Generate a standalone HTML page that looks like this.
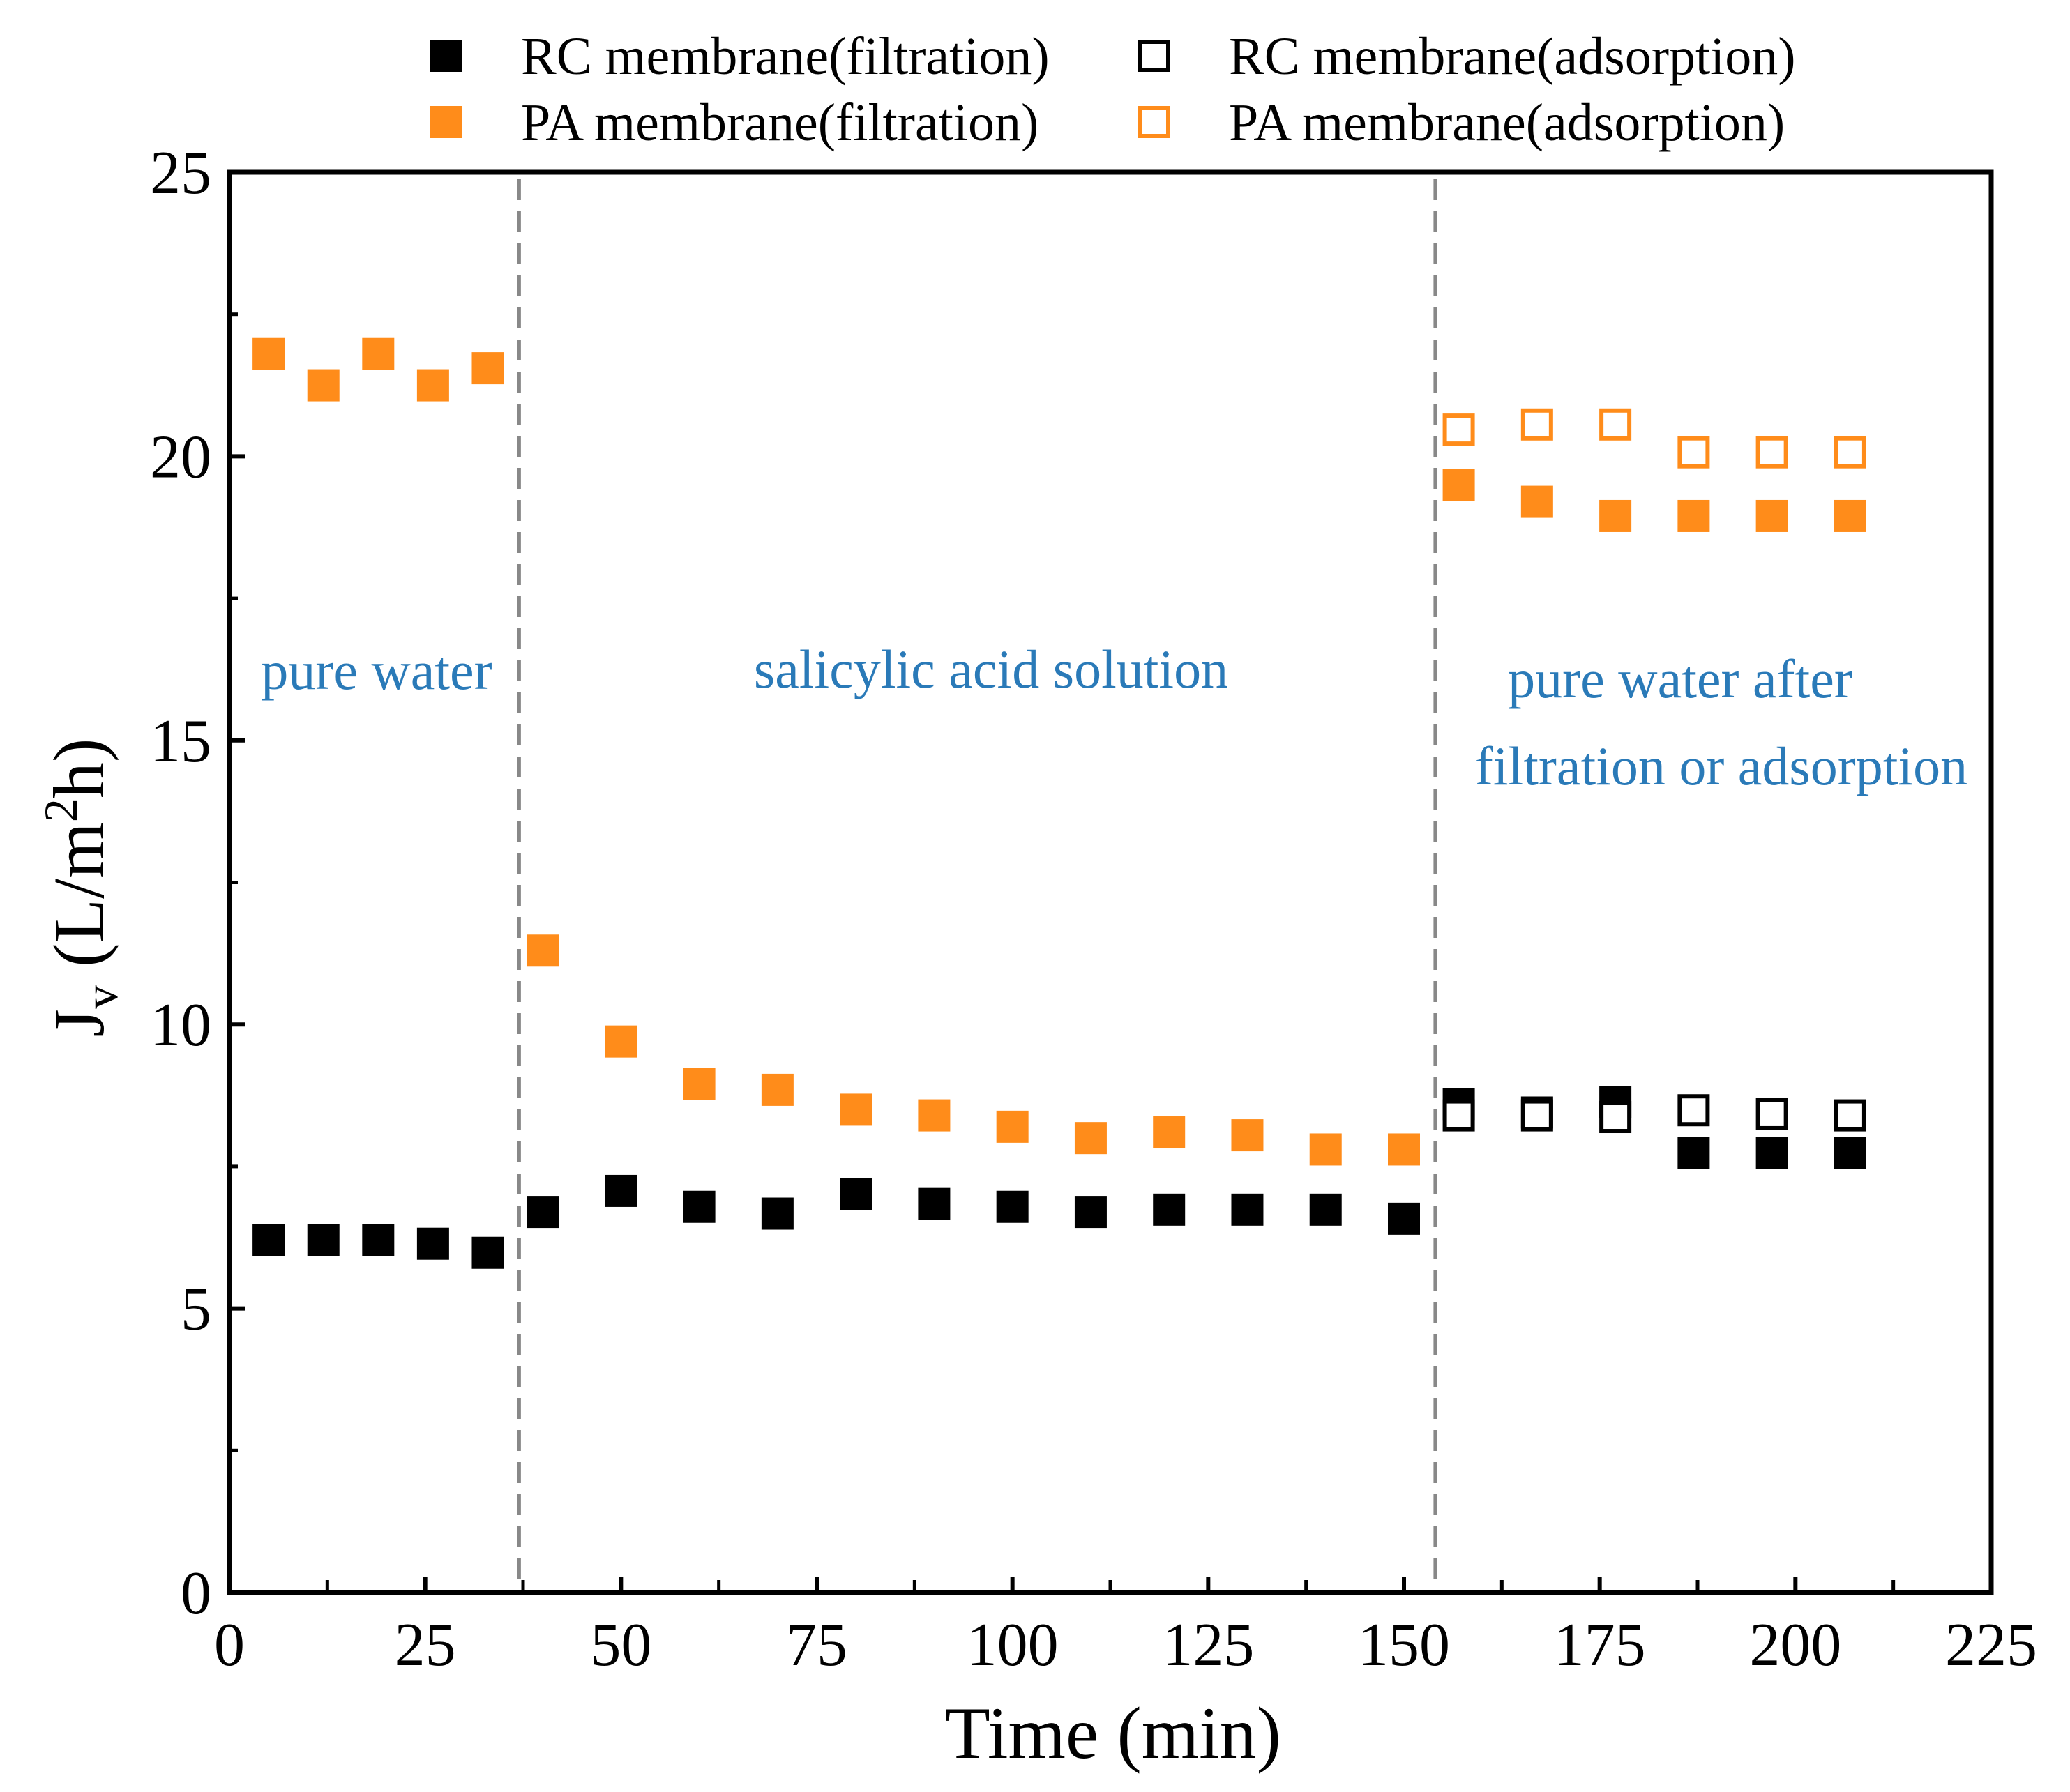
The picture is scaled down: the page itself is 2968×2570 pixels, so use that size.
<!DOCTYPE html>
<html><head><meta charset="utf-8"><style>
html,body{margin:0;padding:0;background:#fff;}
svg{display:block;font-family:"Liberation Serif",serif;}
</style></head><body>
<svg id="chart" width="2968" height="2570" viewBox="0 0 2968 2570" xmlns="http://www.w3.org/2000/svg">
<rect width="2968" height="2570" fill="#fff"/>
<g id="legend"></g>
<g id="marks"></g>
<g id="axes"></g>
<text x="540" y="988" font-size="78" fill="#2a7ab8" text-anchor="middle">pure water</text>
<text x="1421" y="986" font-size="78" fill="#2a7ab8" text-anchor="middle">salicylic acid solution</text>
<text x="2409" y="1000" font-size="78" fill="#2a7ab8" text-anchor="middle">pure water after</text>
<text x="2468" y="1125" font-size="78" fill="#2a7ab8" text-anchor="middle">filtration or adsorption</text>
<text x="1596" y="2521" font-size="106" text-anchor="middle">Time (min)</text>
<text transform="translate(148,1273) rotate(-90)" font-size="104" text-anchor="middle">J<tspan font-size="68" dy="20">v</tspan><tspan dy="-20"> (L/m</tspan><tspan font-size="68" dy="-38">2</tspan><tspan dy="38">h)</tspan></text>
</svg>
<script>
const timeFilt=[5,12,19,26,33,40,50,60,70,80,90,100,110,120,130,140,150,157,167,177,187,197,207];
const paFilt=[21.8,21.25,21.8,21.25,21.55,11.3,9.7,8.95,8.85,8.5,8.4,8.2,8.0,8.1,8.05,7.8,7.8,19.5,19.2,18.95,18.95,18.95,18.95];
const rcFilt=[6.21,6.21,6.21,6.14,5.98,6.7,7.07,6.79,6.67,7.02,6.84,6.79,6.7,6.74,6.74,6.74,6.58,8.6,8.45,8.63,7.74,7.74,7.74];
const timeAds=[157,167,177,187,197,207];
const rcAds=[8.4,8.4,8.37,8.49,8.42,8.4];
const paAds=[20.47,20.56,20.56,20.07,20.07,20.07];
const xTicks=[0,25,50,75,100,125,150,175,200,225];
const yTicks=[0,5,10,15,20,25];
const dividers=[37,154];

const NS="http://www.w3.org/2000/svg";
const L=329,R=2855,T=247,B=2284;
const X=v=>L+(v/225)*(R-L);
const Y=v=>B-(v/25)*(B-T);
const ORANGE="#ff8c1a";
function mk(tag,attrs,parent){const e=document.createElementNS(NS,tag);for(const k in attrs)e.setAttribute(k,attrs[k]);parent.appendChild(e);return e;}
const marks=document.getElementById('marks'),axes=document.getElementById('axes'),legend=document.getElementById('legend');

dividers.forEach((d,i)=>{
  const l=mk('line',{x1:X(d),x2:X(d),y1:T+10,y2:B,stroke:'#888','stroke-width':5,'stroke-dasharray':'30 16'},marks);
  
  
});
const S=46;
function sq(x,y,filled,color,parent,name){
  const r=filled?mk('rect',{x:x-S/2,y:y-S/2,width:S,height:S,fill:color},parent)
    :mk('rect',{x:x-S/2+3,y:y-S/2+3,width:S-6,height:S-6,fill:'#fff',stroke:color,'stroke-width':6},parent);
  
  
}
timeFilt.forEach((t,i)=>sq(X(t),Y(paFilt[i]),true,ORANGE,marks,'pa-filtration-point'));
timeFilt.forEach((t,i)=>sq(X(t),Y(rcFilt[i]),true,'#000',marks,'rc-filtration-point'));
timeAds.forEach((t,i)=>sq(X(t),Y(rcAds[i]),false,'#000',marks,'rc-adsorption-point'));
timeAds.forEach((t,i)=>sq(X(t),Y(paAds[i]),false,ORANGE,marks,'pa-adsorption-point'));

const frame=mk('rect',{x:L,y:T,width:R-L,height:B-T,fill:'none',stroke:'#000','stroke-width':7},axes);


xTicks.forEach(v=>{
  const tk=mk('line',{x1:X(v),x2:X(v),y1:B,y2:B-22,stroke:'#000','stroke-width':6},axes);
  
  
  if(v<225){const m=mk('line',{x1:X(v+12.5),x2:X(v+12.5),y1:B,y2:B-18,stroke:'#000','stroke-width':5},axes);
  
  }
  const t=mk('text',{x:X(v),y:B+104,'font-size':88,'text-anchor':'middle'},axes);t.textContent=v;
  
  
});
yTicks.forEach(v=>{
  const tk=mk('line',{x1:L,x2:L+22,y1:Y(v),y2:Y(v),stroke:'#000','stroke-width':6},axes);
  
  
  if(v<25){const m=mk('line',{x1:L,x2:L+12,y1:Y(v+2.5),y2:Y(v+2.5),stroke:'#000','stroke-width':5},axes);
  
  }
  const t=mk('text',{x:L-26,y:Y(v)+30,'font-size':88,'text-anchor':'end'},axes);t.textContent=v;
  
  
});
const legItems=[[640,80,true,'#000','RC membrane(filtration)'],[1655,80,false,'#000','RC membrane(adsorption)'],[640,175,true,ORANGE,'PA membrane(filtration)'],[1655,175,false,ORANGE,'PA membrane(adsorption)']];
legItems.forEach(it=>{
  sq(it[0],it[1],it[2],it[3],legend,'legend-marker');
  const t=mk('text',{x:it[0]+107,y:it[1]+26,'font-size':76},legend);t.textContent=it[4];
  
  
});
</script>
</body></html>
